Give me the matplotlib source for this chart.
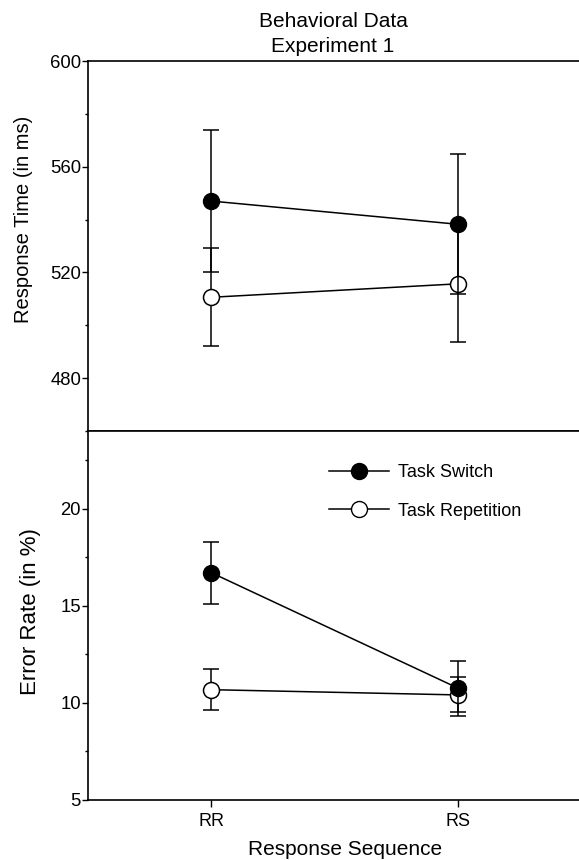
import matplotlib.pyplot as plt
from matplotlib.lines import Line2D
from matplotlib.ticker import MultipleLocator

plt.rcParams['font.family'] = ['Liberation Sans', 'DejaVu Sans']

sequences = ["RR", "RS"]
xpos = [0, 1]

# response times (ms)
rt_switch = [547, 538.2]
rt_switch_err = [27, 26.5]
rt_repeat = [510.6, 515.7]
rt_repeat_err = [18.5, 21.9]

# error rates (%)
er_switch = [16.7, 10.75]
er_switch_err = [1.6, 1.42]
er_repeat = [10.68, 10.41]
er_repeat_err = [1.07, 0.9]

W, H = 579, 860
fig = plt.figure(figsize=(W / 100, H / 100), dpi=100)
ax1 = fig.add_axes([88 / W, 1 - 431 / H, 1 - 88 / W + 0.005, 370 / H])
ax2 = fig.add_axes([88 / W, 1 - 800 / H, 1 - 88 / W + 0.005, 369 / H])

def draw(ax, sw, sw_err, rp, rp_err):
    ax.errorbar(xpos, rp, yerr=rp_err, color='black', lw=1.1, elinewidth=1.1,
                capsize=5.5, capthick=1.1, marker='o', ms=11.5, mfc='white',
                mec='black', mew=1.1, zorder=3)
    ax.errorbar(xpos, sw, yerr=sw_err, color='black', lw=1.1, elinewidth=1.1,
                capsize=5.5, capthick=1.1, marker='o', ms=11.5, mfc='black',
                mec='black', zorder=4)
    ax.set_xlim(-0.5, 1.5)
    ax.spines['right'].set_visible(False)
    for s in ax.spines.values():
        s.set_linewidth(1.2)
    ax.tick_params(axis='y', which='major', length=4, width=1, labelsize=13.3, pad=1)
    ax.tick_params(axis='y', which='minor', length=2.5, width=1)

draw(ax1, rt_switch, rt_switch_err, rt_repeat, rt_repeat_err)
ax1.set_ylim(460, 600)
ax1.set_yticks([480, 520, 560, 600])
ax1.yaxis.set_minor_locator(MultipleLocator(20))
ax1.set_xticks([])

draw(ax2, er_switch, er_switch_err, er_repeat, er_repeat_err)
ax2.set_ylim(5, 24)
ax2.set_yticks([5, 10, 15, 20])
ax2.yaxis.set_minor_locator(MultipleLocator(2.5))
ax2.set_xticks(xpos)
ax2.set_xticklabels(sequences)
ax2.tick_params(axis='x', length=5, width=1, labelsize=13, pad=4)

# titles and axis labels
fig.text(333 / W, 1 - 27 / H, "Behavioral Data", fontsize=15, ha='center', va='baseline')
fig.text(333 / W, 1 - 52 / H, "Experiment 1", fontsize=15, ha='center', va='baseline')
fig.text(24 / W, 1 - 219 / H, "Response Time (in ms)", fontsize=14.5,
         rotation=90, ha='center', va='center')
fig.text(31 / W, 1 - 612 / H, "Error Rate (in %)", fontsize=16,
         rotation=90, ha='center', va='center')
fig.text(345 / W, 1 / H, "Response Sequence", fontsize=15, ha='center', va='bottom')

handles = [
    Line2D([], [], color='black', lw=1.1, marker='o', ms=11.5, mfc='black', mec='black'),
    Line2D([], [], color='black', lw=1.1, marker='o', ms=11.5, mfc='white', mec='black'),
]
ax2.legend(handles, ["Task Switch", "Task Repetition"], loc='center left',
           bbox_to_anchor=(0.488, 0.835), frameon=False, fontsize=13,
           handlelength=3.3, labelspacing=1.2, handletextpad=0.5,
           borderpad=0, borderaxespad=0)

fig.savefig("out.png", dpi=100)
